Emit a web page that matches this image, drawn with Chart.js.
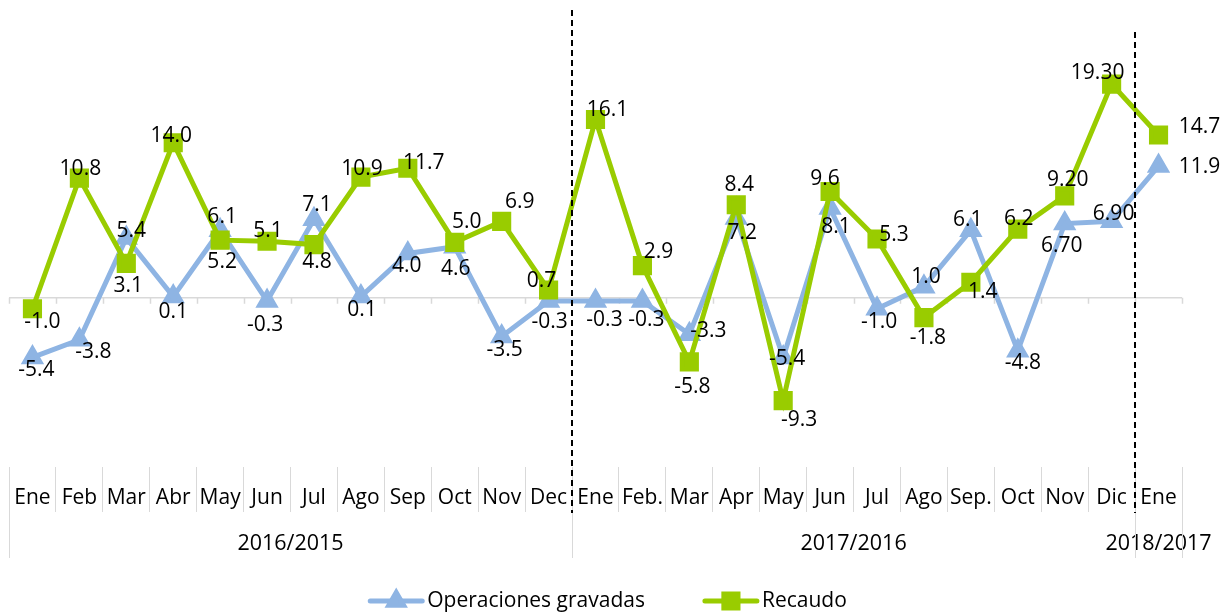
<!DOCTYPE html>
<html>
<head>
<meta charset="utf-8">
<script src="https://cdn.jsdelivr.net/npm/chart.js@4.4.0/dist/chart.umd.min.js"></script>
<style>
  html, body { margin: 0; padding: 0; background: #fff; }
  #wrap { width: 1223px; height: 613px; }
</style>
</head>
<body>
<div id="wrap"><canvas id="chart"></canvas></div>
<script>
const months = ["Ene", "Feb", "Mar", "Abr", "May", "Jun", "Jul", "Ago", "Sep", "Oct", "Nov", "Dec",
  "Ene", "Feb.", "Mar", "Apr", "May", "Jun", "Jul", "Ago", "Sep.", "Oct", "Nov", "Dic", "Ene"];
const periods = ["2016/2015", "2017/2016", "2018/2017"];
const periodSizes = [12, 12, 1];

const operaciones = [-5.4, -3.8, 5.4, 0.1, 6.1, -0.3, 7.1, 0.1, 4.0, 4.6, -3.5, -0.3,
  -0.3, -0.3, -3.3, 7.2, -5.4, 8.1, -1.0, 1.0, 6.1, -4.8, 6.7, 6.9, 11.9];
const recaudo = [-1.0, 10.8, 3.1, 14.0, 5.2, 5.1, 4.8, 10.9, 11.7, 5.0, 6.9, 0.7,
  16.1, 2.9, -5.8, 8.4, -9.3, 9.6, 5.3, -1.8, 1.4, 6.2, 9.2, 19.3, 14.7];

// decimals shown in each data label
const operacionesDecimals = [1, 1, 1, 1, 1, 1, 1, 1, 1, 1, 1, 1, 1, 1, 1, 1, 1, 1, 1, 1, 1, 1, 2, 2, 1];
const recaudoDecimals = [1, 1, 1, 1, 1, 1, 1, 1, 1, 1, 1, 1, 1, 1, 1, 1, 1, 1, 1, 1, 1, 1, 2, 2, 1];

// label placement relative to each point (px)
const opsLabelOffsets = [[4, 13], [14, 12], [5, -7], [0, 15], [2, -13], [-2, 24], [3, -14], [1, 13],
  [-1, 13], [1, 22], [3, 14], [1, 21], [9, 19], [4, 19], [19, -3], [6, 15], [4, 2], [6, 19],
  [2, 13], [2, -10], [-3, -10], [5, 12], [-3, 22], [2, -7], [41, 1]];
const recLabelOffsets = [[10, 13], [1, -9], [2, 23], [-2, -7], [2, 22], [1, -10], [3, 17], [1, -8],
  [16, -5], [12, -20], [18, -19], [-7, -9], [12, -10], [16, -14], [3, 25], [3, -20], [16, 19],
  [-5, -12], [17, -4], [4, 20], [12, 10], [1, -10], [3, -16], [-14, -11], [41, -8]];

const FONT = "'Open Sans', sans-serif";
const BLUE = "#8eb4e3";
const GREEN = "#99cc00";
const GRID = "#d9d9d9";

const extras = {
  id: "extras",
  beforeDatasetsDraw(chart) {
    const { ctx, chartArea, scales: { x, y } } = chart;
    const y0 = y.getPixelForValue(0);
    ctx.save();
    ctx.strokeStyle = GRID;
    ctx.lineWidth = 1.5;
    ctx.beginPath();
    ctx.moveTo(chartArea.left, y0);
    ctx.lineTo(chartArea.right, y0);
    for (let i = 0; i <= months.length; i++) {
      const px = Math.round(x.getPixelForValue(i - 0.5)) + 0.5;
      ctx.moveTo(px, y0);
      ctx.lineTo(px, y0 + 6);
    }
    ctx.stroke();
    ctx.restore();
  },
  afterDatasetsDraw(chart) {
    const { ctx } = chart;
    const sets = [
      [0, operaciones, operacionesDecimals, opsLabelOffsets],
      [1, recaudo, recaudoDecimals, recLabelOffsets],
    ];
    ctx.save();
    ctx.font = "21px " + FONT;
    ctx.fillStyle = "#000";
    ctx.textAlign = "center";
    ctx.textBaseline = "middle";
    sets.forEach(([idx, values, decimals, offsets]) => {
      const meta = chart.getDatasetMeta(idx);
      meta.data.forEach((pt, i) => {
        const [dx, dy] = offsets[i];
        ctx.fillText(values[i].toFixed(decimals[i]), pt.x + dx, pt.y + dy);
      });
    });
    ctx.restore();
  },
  afterDraw(chart) {
    const { ctx, chartArea, scales: { x } } = chart;
    ctx.save();

    // period row
    const rowTop = chartArea.bottom + 45;
    const rowBottom = rowTop + 46;
    ctx.strokeStyle = GRID;
    ctx.lineWidth = 1;
    ctx.font = "21.5px " + FONT;
    ctx.fillStyle = "#000";
    ctx.textAlign = "center";
    ctx.textBaseline = "middle";
    let start = 0;
    ctx.beginPath();
    periods.forEach((p, k) => {
      const left = x.getPixelForValue(start - 0.5);
      const right = x.getPixelForValue(start + periodSizes[k] - 0.5);
      const lx = Math.round(left) + 0.5;
      const rx = Math.round(right) + 0.5;
      ctx.moveTo(lx, rowTop);
      ctx.lineTo(lx, rowBottom);
      ctx.moveTo(rx, rowTop);
      ctx.lineTo(rx, rowBottom);
      ctx.fillText(p, (left + right) / 2, rowTop + 32);
      start += periodSizes[k];
    });
    ctx.stroke();

    // dashed separators between periods
    ctx.strokeStyle = "#000";
    ctx.lineWidth = 2;
    ctx.setLineDash([6, 4]);
    const tops = [chartArea.top, chartArea.top + 22];
    start = 0;
    for (let k = 0; k < periods.length - 1; k++) {
      start += periodSizes[k];
      const px = Math.round(x.getPixelForValue(start - 0.5));
      ctx.beginPath();
      ctx.moveTo(px, tops[k]);
      ctx.lineTo(px, rowTop + 1);
      ctx.stroke();
    }
    ctx.setLineDash([]);

    // legend
    const items = chart.data.datasets.map((ds) => ({
      text: ds.label, color: ds.borderColor, style: ds.pointStyle, radius: ds.pointRadius,
    }));
    const symW = 56, symGap = 3, itemGap = 58;
    ctx.font = "21px " + FONT;
    ctx.textAlign = "left";
    const widths = items.map((it) => ctx.measureText(it.text).width);
    let total = 0;
    widths.forEach((w, i) => { total += symW + symGap + w + (i ? itemGap : 0); });
    let cx = (chart.width - total) / 2 - 4;
    const ly = 601;
    items.forEach((it, i) => {
      ctx.strokeStyle = it.color;
      ctx.fillStyle = it.color;
      ctx.lineWidth = 5;
      ctx.lineCap = "round";
      ctx.beginPath();
      ctx.moveTo(cx + 2, ly);
      ctx.lineTo(cx + symW - 2, ly);
      ctx.stroke();
      Chart.helpers.drawPoint(ctx, { pointStyle: it.style, radius: it.radius, rotation: 0, borderWidth: 1 }, cx + symW / 2, ly);
      ctx.fillStyle = "#000";
      ctx.fillText(it.text, cx + symW + symGap, ly);
      cx += symW + symGap + widths[i] + itemGap;
    });
    ctx.restore();
  },
};

new Chart(document.getElementById("chart"), {
  type: "line",
  data: {
    labels: months,
    datasets: [
      {
        label: "Operaciones gravadas",
        data: operaciones,
        borderColor: BLUE,
        backgroundColor: BLUE,
        pointBackgroundColor: BLUE,
        pointBorderColor: BLUE,
        borderWidth: 5,
        pointStyle: "triangle",
        pointRadius: 8.5,
        pointHoverRadius: 8.5,
        tension: 0,
        order: 1,
      },
      {
        label: "Recaudo",
        data: recaudo,
        borderColor: GREEN,
        backgroundColor: GREEN,
        pointBackgroundColor: GREEN,
        pointBorderColor: GREEN,
        borderWidth: 5,
        pointStyle: "rect",
        pointRadius: 10,
        pointHoverRadius: 10,
        tension: 0,
        order: 0,
      },
    ],
  },
  options: {
    responsive: true,
    maintainAspectRatio: false,
    animation: false,
    layout: { autoPadding: false, padding: { left: 9, right: 41, top: 10, bottom: 0 } },
    plugins: {
      legend: { display: false },
      tooltip: { enabled: false },
    },
    scales: {
      y: {
        display: false,
        min: -15.3,
        max: 26,
      },
      x: {
        offset: true,
        grid: {
          offset: true,
          drawOnChartArea: false,
          drawTicks: true,
          tickLength: 45,
          color: GRID,
          lineWidth: 1,
        },
        border: { display: false },
        ticks: {
          padding: -27,
          autoSkip: false,
          maxRotation: 0,
          color: "#000",
          font: { family: FONT, size: 21 },
        },
        afterFit(scale) {
          scale.height = 146;
        },
      },
    },
  },
  plugins: [extras],
});
</script>
</body>
</html>
